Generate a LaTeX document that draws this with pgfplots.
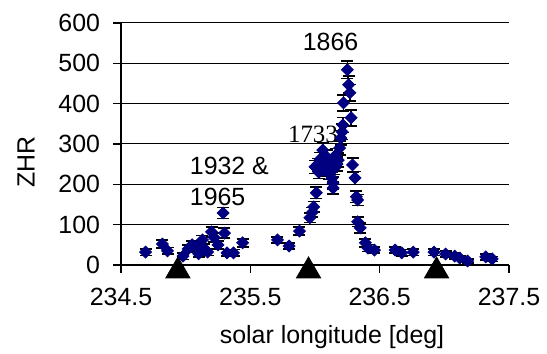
\documentclass[border=0pt]{standalone}
\usepackage{pgfplots}
\pgfplotsset{compat=1.18}
\usepackage{fontspec}
\setmainfont{Liberation Sans}
\newfontfamily\timesfont{Liberation Serif}
\definecolor{navy}{RGB}{0,0,128}
\begin{document}
\begin{tikzpicture}
\begin{axis}[
  scale only axis, width=194bp, height=121bp,
  xmin=234.5, xmax=237.5, ymin=0, ymax=600,
  xtick={234.5,235.5,236.5,237.5},
  ytick={0,100,200,300,400,500,600},
  xticklabel style={yshift=-4bp, /pgf/number format/fixed, /pgf/number format/fixed zerofill, /pgf/number format/precision=1, /pgf/number format/1000 sep={}},
  yticklabel style={xshift=-3bp},
  /pgf/number format/assume math mode=true,
  axis x line*=bottom, axis y line*=left,
  axis line style={line width=0.8bp, -},
  ymajorgrids, grid style={black, line width=0.5bp},
  tick align=outside, major tick length=4bp, tick style={black, line width=0.8bp},
  ticklabel style={font=\fontsize{12.5}{15}\selectfont},
  label style={font=\fontsize{12.5}{15}\selectfont},
  xlabel={solar longitude [deg]}, ylabel={ZHR},
  xlabel style={at={([yshift=-36bp]rel axis cs:0.544,0)}, anchor=center},
  ylabel style={at={([xshift=-47.5bp]rel axis cs:0,0.426)}, anchor=center},
  clip=false,
]
\addplot[only marks, mark=square*, mark size=2.1bp, navy, mark options={rotate=45, fill=navy, draw=navy},
  error bars/.cd, y dir=both, y explicit,
  error bar style={black, line width=0.8bp},
  error mark options={rotate=90, black, mark size=3bp, line width=0.8bp}]
coordinates {
(234.69,32) +- (0,8)
(234.82,52) +- (0,10)
(234.86,35) +- (0,8)
(234.98,22) +- (0,8)
(235.02,40) +- (0,9)
(235.05,50) +- (0,10)
(235.08,45) +- (0,10)
(235.10,28) +- (0,8)
(235.13,62) +- (0,11)
(235.14,42) +- (0,10)
(235.17,32) +- (0,8)
(235.20,82) +- (0,12)
(235.22,68) +- (0,11)
(235.25,50) +- (0,10)
(235.29,129) +- (0,14)
(235.30,79) +- (0,12)
(235.32,30) +- (0,8)
(235.37,30) +- (0,8)
(235.44,55) +- (0,10)
(235.71,62) +- (0,8)
(235.80,47) +- (0,8)
(235.88,84) +- (0,10)
(235.96,117) +- (0,12)
(235.98,131) +- (0,12)
(235.99,144) +- (0,13)
(236.01,179) +- (0,14)
(236.00,243) +- (0,16)
(236.02,248) +- (0,16)
(236.03,230) +- (0,16)
(236.04,262) +- (0,17)
(236.05,240) +- (0,16)
(236.06,285) +- (0,18)
(236.07,236) +- (0,16)
(236.08,252) +- (0,17)
(236.09,268) +- (0,17)
(236.10,245) +- (0,16)
(236.11,228) +- (0,16)
(236.12,256) +- (0,17)
(236.13,215) +- (0,15)
(236.14,203) +- (0,15)
(236.14,191) +- (0,15)
(236.15,240) +- (0,16)
(236.16,272) +- (0,17)
(236.17,250) +- (0,17)
(236.18,260) +- (0,17)
(236.19,290) +- (0,18)
(236.20,315) +- (0,18)
(236.21,330) +- (0,19)
(236.215,347) +- (0,19)
(236.22,402) +- (0,20)
(236.25,484) +- (0,22)
(236.26,447) +- (0,21)
(236.27,427) +- (0,21)
(236.28,365) +- (0,20)
(236.29,248) +- (0,17)
(236.31,216) +- (0,16)
(236.32,169) +- (0,14)
(236.33,161) +- (0,14)
(236.33,107) +- (0,12)
(236.35,92) +- (0,12)
(236.39,55) +- (0,10)
(236.41,42) +- (0,9)
(236.46,37) +- (0,8)
(236.62,37) +- (0,8)
(236.67,30) +- (0,8)
(236.76,32) +- (0,8)
(236.92,32) +- (0,8)
(237.01,27) +- (0,7)
(237.08,22) +- (0,7)
(237.12,17) +- (0,6)
(237.18,10) +- (0,5)
(237.32,20) +- (0,7)
(237.37,15) +- (0,6)
};
\addplot[only marks, mark=triangle*, mark size=7bp, black, mark options={yshift=-3bp, fill=black}]
coordinates {(234.94,0) (235.95,0) (236.94,0)};
\node[font=\fontsize{12.5}{15}\selectfont, inner sep=0pt] at (axis cs:236.12,553) {1866};
\node[font=\timesfont\fontsize{12.5}{15}\selectfont, anchor=east, inner sep=0pt] at (axis cs:236.18,325) {1733};
\node[font=\fontsize{12.5}{15}\selectfont, anchor=west, inner sep=0pt] at (axis cs:235.03,246) {1932 \&};
\node[font=\fontsize{12.5}{15}\selectfont, anchor=west, inner sep=0pt] at (axis cs:235.03,169) {1965};
\coordinate (O) at (rel axis cs:0,0);
\coordinate (T) at (rel axis cs:1,1);
\end{axis}
\pgfresetboundingbox
\path ([xshift=-60.5bp,yshift=-44.5bp]O) rectangle ([xshift=19bp,yshift=11.5bp]T);
\end{tikzpicture}
\end{document}
